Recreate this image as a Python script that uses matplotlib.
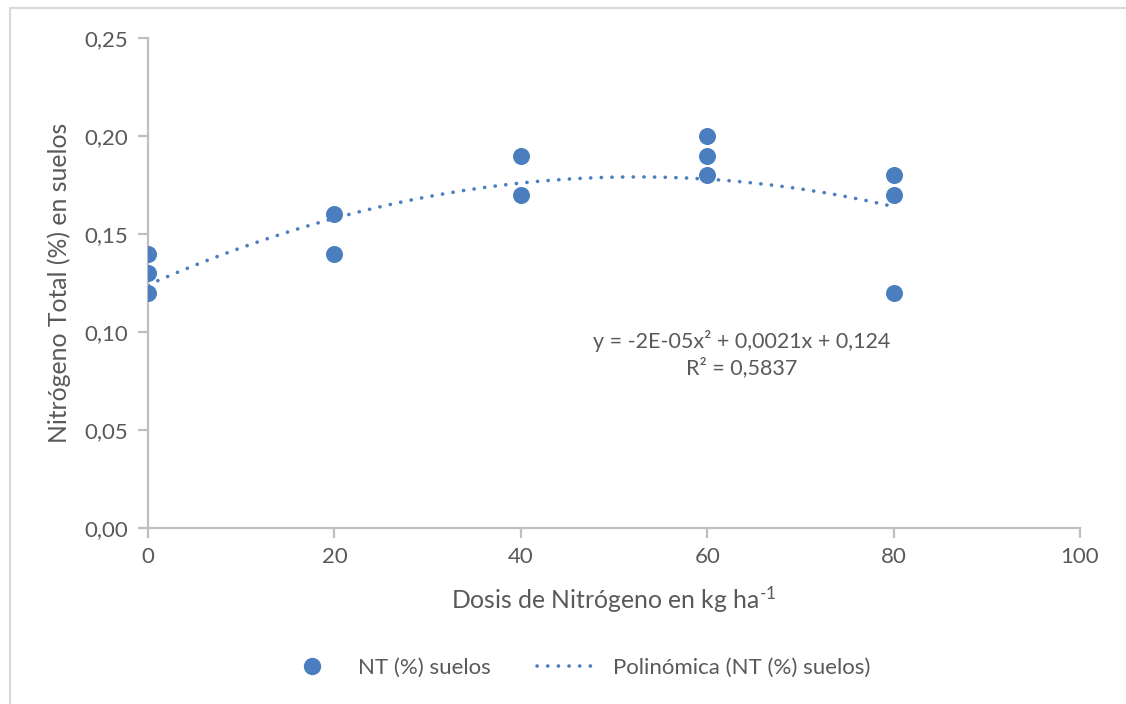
import matplotlib
matplotlib.use("Agg")

import numpy as np
import matplotlib.pyplot as plt
from matplotlib.lines import Line2D
import matplotlib.ticker as mticker

# ── Data ──────────────────────────────────────────────────────────────────────
dosis = [0, 0, 0, 20, 20, 40, 40, 60, 60, 60, 80, 80, 80]
nt_suelos = [0.14, 0.13, 0.12, 0.16, 0.14, 0.19, 0.17, 0.20, 0.19, 0.18, 0.18, 0.17, 0.12]
# trendline coefficients as printed on the chart (x², x, const)
trend_coef = [-2e-05, 0.0021, 0.124]
trend_range = [0, 80]
x_ticks = [0, 20, 40, 60, 80, 100]
y_ticks = [0.00, 0.05, 0.10, 0.15, 0.20, 0.25]
eq_text = "y = -2E-05x² + 0,0021x + 0,124\nR² = 0,5837"

# ── Style ─────────────────────────────────────────────────────────────────────
COLOR_DOT = "#4A7EBF"
COLOR_AXIS = "#BFBFBF"
COLOR_TEXT = "#595959"
COLOR_FRAME = "#D9D9D9"
DOTTED = (0, (0.05, 2.9))

plt.rcParams["font.family"] = ["Lato", "DejaVu Sans"]
plt.rcParams["mathtext.fontset"] = "custom"
plt.rcParams["mathtext.rm"] = "Lato"
plt.rcParams["mathtext.it"] = "Lato"

W, H = 1126, 704
fig = plt.figure(figsize=(W / 100, H / 100), dpi=100, facecolor="white")
ax = fig.add_axes([148 / W, 176 / H, (1080 - 148) / W, (528 - 38) / H])

ax.scatter(dosis, nt_suelos, s=150, color=COLOR_DOT, zorder=3, linewidths=0)

xs = np.linspace(trend_range[0], trend_range[1], 200)
ax.plot(xs, np.polyval(trend_coef, xs), color=COLOR_DOT, linewidth=2.6,
        linestyle=DOTTED, dash_capstyle="round", zorder=2)

ax.set_xlim(0, 100)
ax.set_ylim(0, 0.25)
ax.set_xticks(x_ticks)
ax.set_yticks(y_ticks)
ax.yaxis.set_major_formatter(mticker.FuncFormatter(lambda v, p: f"{v:.2f}".replace(".", ",")))

for side in ["top", "right"]:
    ax.spines[side].set_visible(False)
for side in ["bottom", "left"]:
    ax.spines[side].set_color(COLOR_AXIS)
    ax.spines[side].set_linewidth(1.6)
ax.tick_params(direction="out", length=7, width=1.6, color=COLOR_AXIS,
               labelcolor=COLOR_TEXT, labelsize=16, pad=7)

ax.set_xlabel(r"Dosis de Nitrógeno en kg ha$^{\text{-1}}$", fontsize=17.8,
              color=COLOR_TEXT, labelpad=12)
ax.set_ylabel("Nitrógeno Total (%) en suelos", fontsize=17.8, color=COLOR_TEXT, labelpad=10)

ax.text(0.637, 0.355, eq_text, transform=ax.transAxes, ha="center", va="center",
        fontsize=15.5, color=COLOR_TEXT, linespacing=1.35)

handles = [
    Line2D([], [], marker="o", linestyle="none", markersize=12.5, color=COLOR_DOT,
           markeredgewidth=0),
    Line2D([], [], color=COLOR_DOT, linewidth=2.6, linestyle=DOTTED,
           dash_capstyle="round"),
]
fig.legend(handles, ["NT (%) suelos", "Polinómica (NT (%) suelos)"],
           loc="center", bbox_to_anchor=(576 / W, 1 - 668 / H), ncol=2, frameon=False,
           fontsize=16, labelcolor=COLOR_TEXT, handlelength=2.7, columnspacing=2.1,
           handletextpad=0.7)

# thin chart-area frame (top and left edges visible in the reference)
fig.add_artist(Line2D([10 / W, 1], [1 - 8 / H, 1 - 8 / H], color=COLOR_FRAME, linewidth=1.5))
fig.add_artist(Line2D([10 / W, 10 / W], [0, 1 - 8 / H], color=COLOR_FRAME, linewidth=1.5))

fig.savefig("out.png", dpi=100, facecolor="white")
